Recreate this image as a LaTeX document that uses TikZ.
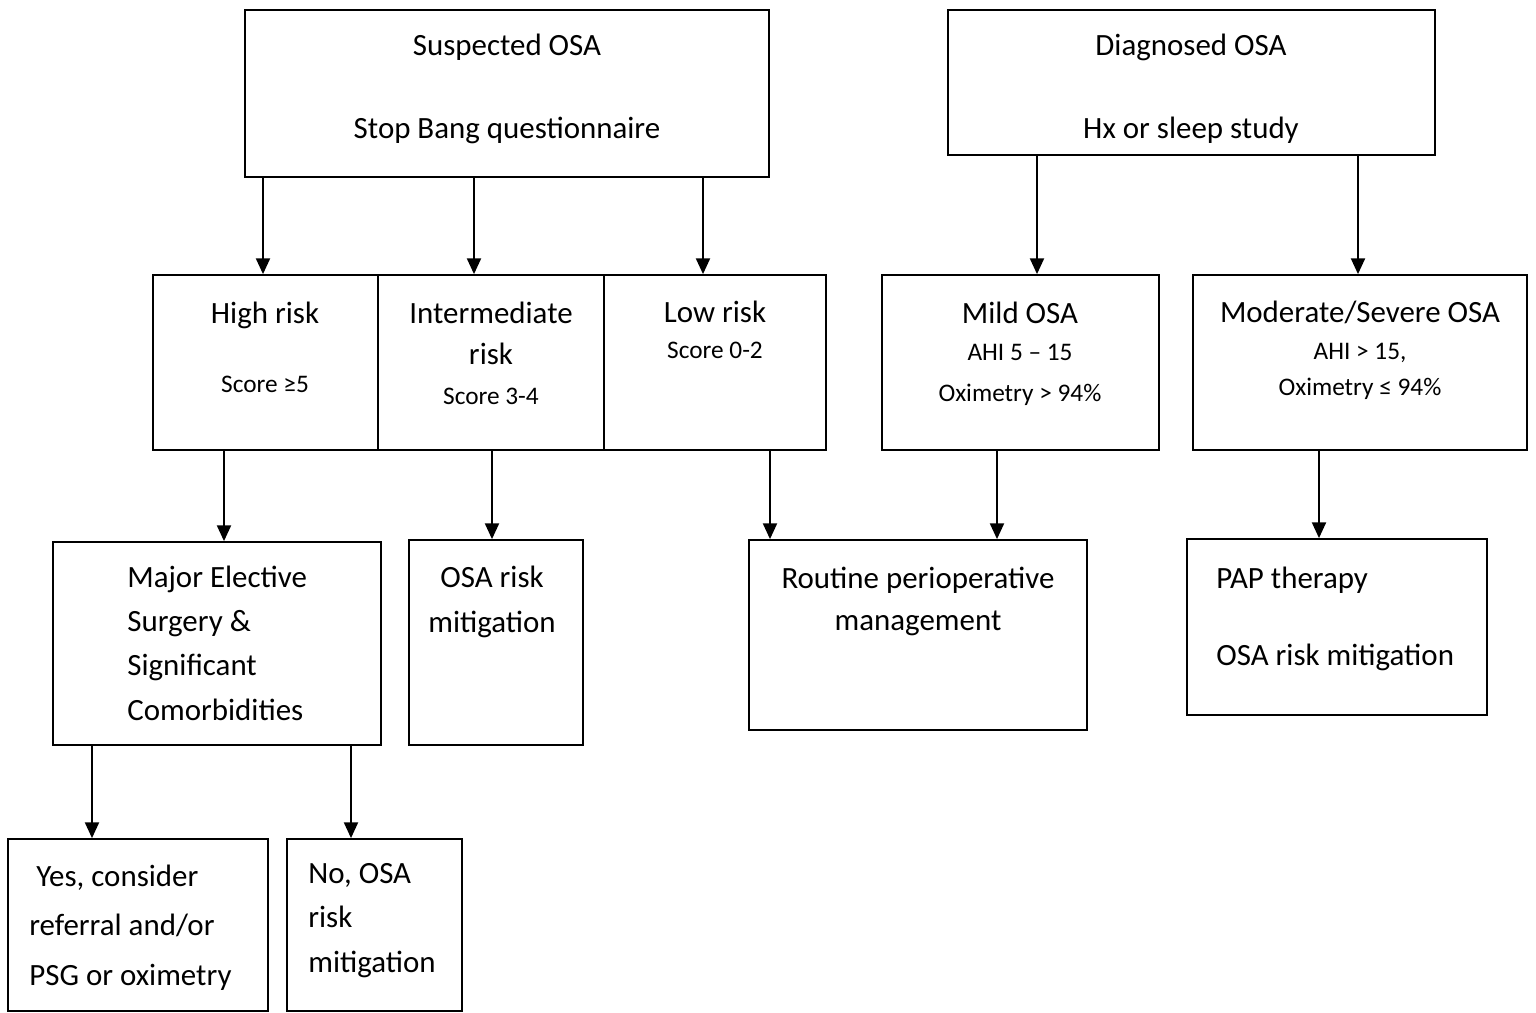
\documentclass[tikz,border=0pt]{standalone}
\usepackage{fontspec}
\setmainfont{Carlito}
\usetikzlibrary{arrows.meta,fit}
\newcommand\scoresize{\fontsize{14.4}{17}\selectfont}

\begin{document}
\begin{tikzpicture}
    [
    x=0.02cm, y=-0.02cm,
    box/.style={draw, line width=1pt, inner sep=0pt, fit={#1}},
    txt/.style={inner sep=0pt, align=center, anchor=base},
    ltxt/.style={txt, align=left, anchor=base west},
    pitch/.style={font=\fontsize{17.6}{#1}\selectfont},
    arr/.style={->, line width=1.1pt},
    >={Triangle[length=9pt, width=8pt]}
    ]
    \useasboundingbox (0,0) rectangle (1536,1013);

    % Entradas (texto anclado en la ultima linea)
    \node [box={(245,10) (769,177)}] (susp) {};
    \node [box={(948,10) (1435,155)}] (diag) {};
    \node [txt, pitch=47.8pt] (susptxt) at (507,139) {Suspected OSA\\Stop Bang questionnaire};
    \node [txt, pitch=47.8pt] (diagtxt) at (1191,139) {Diagnosed OSA\\Hx or sleep study};
    % Niveles de riesgo
    \node [box={(153,275) (378,450)}] (high) {};
    \node [box={(378,275) (604,450)}] (inter) {};
    \node [box={(604,275) (826,450)}] (low) {};
    \node [box={(882,275) (1159,450)}] (mild) {};
    \node [box={(1193,275) (1527,450)}] (modsev) {};
    \node [txt, pitch=39.8pt] (hightxt) at (265,393) {High risk\\{\scoresize Score ≥5}};
    \node [txt, pitch=23.3pt] (intertxt) at (491,405) {Intermediate\\risk\\{\scoresize Score 3-4}};
    \node [txt, pitch=20.5pt] (lowtxt) at (715,359) {Low risk\\{\scoresize Score 0-2}};
    \node [txt, pitch=21pt] (mildtxt) at (1020,402) {Mild OSA\\{\scoresize AHI 5 – 15}\\[2.8pt]{\scoresize Oximetry > 94\%}};
    \node [txt, pitch=20.8pt] (modsevtxt) at (1360,396) {Moderate/Severe OSA\\{\scoresize AHI > 15,}\\{\scoresize Oximetry ≤ 94\%}};
    \draw [arr] (susp.south -| 263,0) -- (high.north -| 263,0);
    \draw [arr] (susp.south -| 474,0) -- (inter.north -| 474,0);
    \draw [arr] (susp.south -| 703,0) -- (low.north -| 703,0);
    \draw [arr] (diag.south -| 1037,0) -- (mild.north -| 1037,0);
    \draw [arr] (diag.south -| 1358,0) -- (modsev.north -| 1358,0);
    % Conducta
    \node [box={(53,542) (381,745)}] (major) {};
    \node [box={(409,540) (583,745)}] (mitig) {};
    \node [box={(749,540) (1087,730)}] (routine) {};
    \node [box={(1187,539) (1487,715)}] (pap) {};
    \node [ltxt, pitch=25.2pt] (majortxt) at (127,720) {Major Elective\\Surgery \&\\Significant\\Comorbidities};
    \node [txt, pitch=25.6pt] (mitigtxt) at (492,632) {OSA risk\\mitigation};
    \node [txt, pitch=23.5pt] (routinetxt) at (918,630) {Routine perioperative\\management};
    \node [ltxt, pitch=43.8pt] (paptxt) at (1216,665) {PAP therapy\\OSA risk mitigation};
    \draw [arr] (high.south -| 224,0) -- (major.north -| 224,0);
    \draw [arr] (inter.south -| 492,0) -- (mitig.north -| 492,0);
    \draw [arr] (low.south -| 770,0) -- (routine.north -| 770,0);
    \draw [arr] (mild.south -| 997,0) -- (routine.north -| 997,0);
    \draw [arr] (modsev.south -| 1319,0) -- (pap.north -| 1319,0);
    % Cirugia mayor
    \node [box={(8,839) (268,1011)}] (yes) {};
    \node [box={(287,839) (462,1011)}] (no) {};
    \node [ltxt, pitch=27.9pt] (yestxt) at (29,985) {\ Yes, consider\\referral and/or\\PSG or oximetry};
    \node [ltxt, pitch=25.3pt] (notxt) at (308,972) {No, OSA\\risk\\mitigation};
    \draw [arr] (major.south -| 92,0) -- (yes.north -| 92,0);
    \draw [arr] (major.south -| 351,0) -- (no.north -| 351,0);
\end{tikzpicture}
\end{document}
